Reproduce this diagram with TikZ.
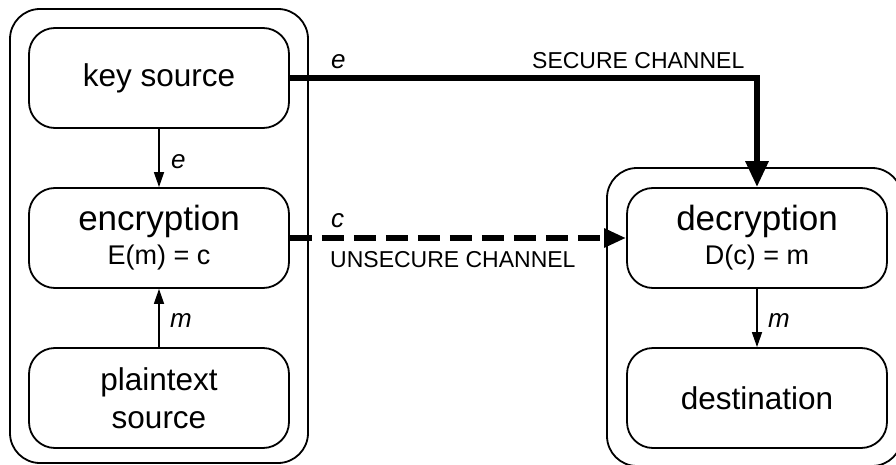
\documentclass[tikz,border=0pt]{standalone}
\usepackage{fontspec}
\setmainfont{Liberation Sans}
\usetikzlibrary{arrows.meta}
\tikzset{
  box/.style={draw, line width=1.8pt, rounded corners=26pt, minimum width=260pt,
    minimum height=100pt, inner sep=0pt, align=center},
  group/.style={draw, line width=1.8pt, rounded corners=30pt, inner sep=0pt},
  bigtext/.style={font=\fontsize{31.5}{38}\selectfont},
  titletext/.style={font=\fontsize{35}{34}\selectfont},
  thinarrow/.style={line width=1.6pt, -{Triangle[length=15pt,width=10pt]}},
  securearrow/.style={line width=6pt, -{Triangle[length=26pt,width=22pt]}},
  unsecurearrow/.style={line width=6pt, dash pattern=on 22pt off 10pt,
    -{Triangle[length=22pt,width=18pt]}},
  lbl/.style={font=\fontsize{26}{30}\selectfont\itshape, anchor=base west, inner sep=0pt},
  chan/.style={font=\fontsize{23}{28}\selectfont, anchor=base west, inner sep=0pt}
}
\begin{document}
\begin{tikzpicture}[x=1pt,y=-1pt]
\useasboundingbox (0,0) rectangle (896,465);
\clip (0,0) rectangle (896,465);
% groups
\node[group, minimum width=298pt, minimum height=454pt] (grpL) at (159,236) {};
\node[group, minimum width=295pt, minimum height=298pt] (grpR) at (754.5,317) {};
% boxes
\node[box, bigtext] (keysrc) at (159,78) {key source};
\node[box, titletext] (enc) at (159,238) {encryption\\{\fontsize{27}{34}\selectfont E(m) = c}};
\node[box, bigtext] (plain) at (159,398) {plaintext\\source};
\node[box, titletext] (dec) at (757,238) {decryption\\{\fontsize{27}{34}\selectfont D(c) = m}};
\node[box, bigtext] (dest) at (757,398) {destination};
% connectors
\draw[thinarrow] (keysrc) -- (enc);
\draw[thinarrow] (plain) -- (enc);
\draw[thinarrow] (dec) -- (dest);
\draw[securearrow] (keysrc.east) -| (dec.north);
\draw[unsecurearrow] (enc.east) -- (dec.west);
% labels
\node[lbl] (le1) at (171,168) {e};
\node[lbl] (lm1) at (170,327) {m};
\node[lbl] (lm2) at (768,327) {m};
\node[lbl] (le2) at (331,69) {e};
\node[lbl] (lc) at (331,227) {c};
\node[chan] (lsec) at (532,69) {SECURE CHANNEL};
\node[chan] (lunsec) at (330,267) {UNSECURE CHANNEL};
\end{tikzpicture}
\end{document}
